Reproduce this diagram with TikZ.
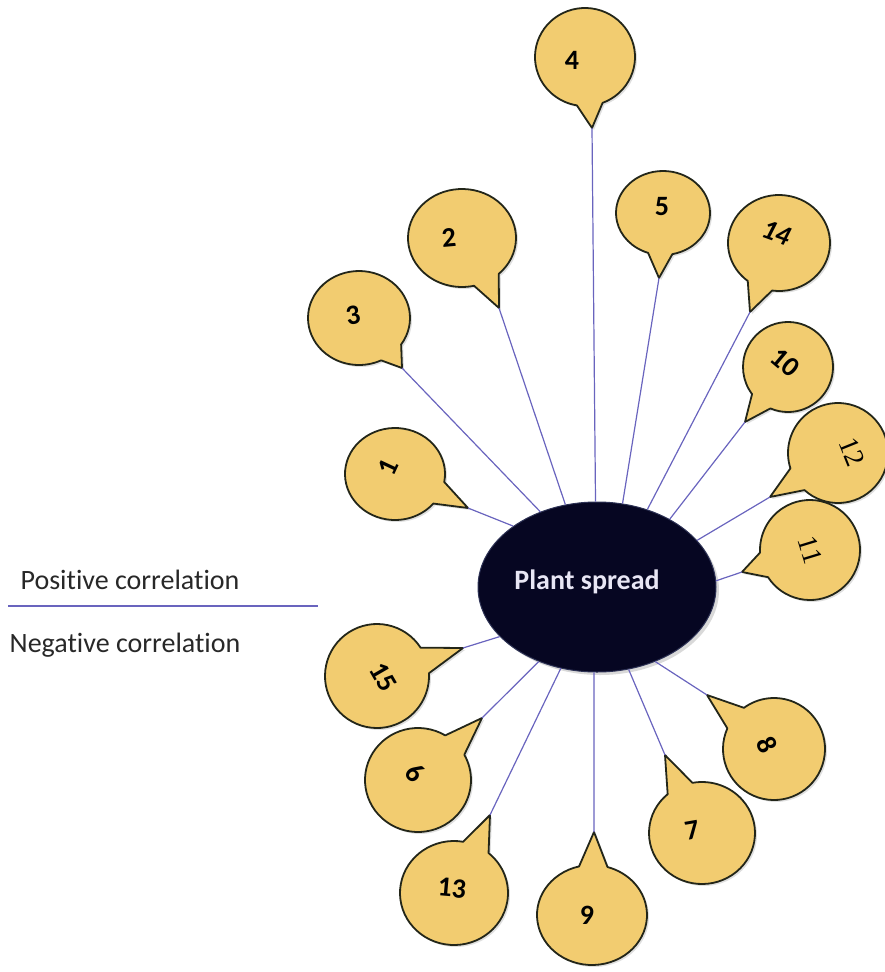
\documentclass[tikz,border=0pt]{standalone}
\usepackage{fontspec}
\setmainfont{Carlito}[Ligatures=NoCommon]
\newfontfamily\serifnum{Liberation Serif}
\usetikzlibrary{calc,shadows,shapes.geometric}
\definecolor{bubfill}{RGB}{242,204,112}
\definecolor{bubline}{RGB}{35,38,25}
\definecolor{conn}{RGB}{105,100,190}
\definecolor{navy}{RGB}{6,6,34}
\definecolor{navyrim}{RGB}{45,50,85}
\definecolor{pstextcol}{RGB}{232,230,245}
\definecolor{legtext}{RGB}{40,40,40}
\tikzset{
  bubble/.style={fill=bubfill, draw=bubline, line width=1.8pt, line join=round,
    drop shadow={opacity=0.25, shadow xshift=2pt, shadow yshift=-2pt}},
  numtext/.style={font=\fontsize{28}{30}\selectfont\bfseries, text=black, inner sep=1pt},
  sernum/.style={font=\fontsize{28}{30}\selectfont\serifnum, text=black, inner sep=1pt},
  connector/.style={draw=conn, line width=1.2pt},
  legend/.style={font=\fontsize{28}{32}\selectfont, text=legtext},
}
\newcommand\drawbubble[5]{%
  \coordinate (c#1) at (#2);
  \coordinate (t#1) at (#5);
  \path[bubble] let \p1=($(t#1)-(c#1)$), \n1={atan2(\y1,\x1)} in
    ($(c#1)+({#3*cos(\n1+15)},{#4*sin(\n1+15)})$)
    arc[start angle=\n1+15, end angle=\n1+345, x radius=#3, y radius=#4]
    -- (t#1) -- cycle;
}
\begin{document}
\begin{tikzpicture}[x=1pt,y=1pt]
\useasboundingbox (0,0) rectangle (885,-972);
% central ellipse
\node[ellipse, minimum width=238pt, minimum height=170pt, inner sep=0pt,
      fill=navy, draw=navyrim, line width=1pt,
      drop shadow={opacity=0.3, shadow xshift=3pt, shadow yshift=-3pt}] (ps) at (597,-587) {};
\node[font=\fontsize{28}{30}\selectfont\bfseries, text=pstextcol] (pst) at (587,-582) {Plant spread};
% bubbles
\drawbubble{4}{585,-57}{50}{49}{592,-128}
\drawbubble{5}{663,-213}{47}{42}{659,-278}
\drawbubble{14}{779,-243}{51}{48}{750,-312}
\drawbubble{2}{462,-238}{54}{49}{499,-308}
\drawbubble{3}{359,-318}{51}{47}{402,-368}
\drawbubble{10}{788,-367}{45}{45}{745,-422}
\drawbubble{12}{838,-453}{50}{50}{770,-497}
\drawbubble{11}{810,-550}{50}{50}{742,-572}
\drawbubble{1}{395,-474}{50}{46}{468,-508}
\drawbubble{15}{377,-676}{52}{52}{463,-648}
\drawbubble{6}{418,-780}{53}{52}{482,-718}
\drawbubble{13}{454,-893}{54}{52}{490,-815}
\drawbubble{9}{592,-915}{55}{50}{594,-832}
\drawbubble{7}{702,-833}{53}{51}{665,-755}
\drawbubble{8}{774,-749}{51}{51}{707,-695}
% numbers
\node[numtext] (n4) at (572,-60) {4};
\node[numtext] (n5) at (662,-207) {5};
\node[numtext, rotate=-20, font=\fontsize{28}{30}\selectfont\bfseries\itshape] (n14) at (777,-233) {14};
\node[numtext, rotate=5] (n2) at (449,-238) {2};
\node[numtext, rotate=10] (n3) at (353,-315) {3};
\node[numtext, rotate=-40] (n10) at (785,-363) {10};
\node[sernum, rotate=-68] (n12) at (852,-452) {12};
\node[sernum, rotate=-73] (n11) at (810,-550) {11};
\node[numtext, rotate=65] (n1) at (388,-467) {1};
\node[numtext, rotate=-60] (n15) at (383,-677) {15};
\node[numtext, rotate=-45] (n6) at (415,-773) {6};
\node[numtext, rotate=-5] (n13) at (452,-888) {13};
\node[numtext] (n9) at (587,-915) {9};
\node[numtext, rotate=10] (n7) at (692,-830) {7};
\node[numtext, rotate=-65] (n8) at (767,-745) {8};
% connectors
\draw[connector] (t4) -- (ps.91);
\draw[connector] (t5) -- (ps.73);
\draw[connector] (t14) -- (ps.57);
\draw[connector] (t10) -- (ps.43);
\draw[connector] (t12) -- (ps.25);
\draw[connector] (t11) -- (ps.3);
\draw[connector] (t2) -- (ps.111);
\draw[connector] (t3) -- (ps.127);
\draw[connector] (t1) -- (ps.144);
\draw[connector] (t15) -- (ps.207);
\draw[connector] (t6) -- (ps.232);
\draw[connector] (t13) -- (ps.246);
\draw[connector] (t9) -- (ps.268);
\draw[connector] (t7) -- (ps.291);
\draw[connector] (t8) -- (ps.308);
% legend
\node[legend] (pos) at (130,-580) {Positive correlation};
\node[legend] (neg) at (125,-645) {Negative correlation};
\coordinate (l1) at (8,-606);
\coordinate (l2) at (318,-606);
\draw[connector, line width=2pt] (l1) -- (l2);
\end{tikzpicture}
\end{document}
